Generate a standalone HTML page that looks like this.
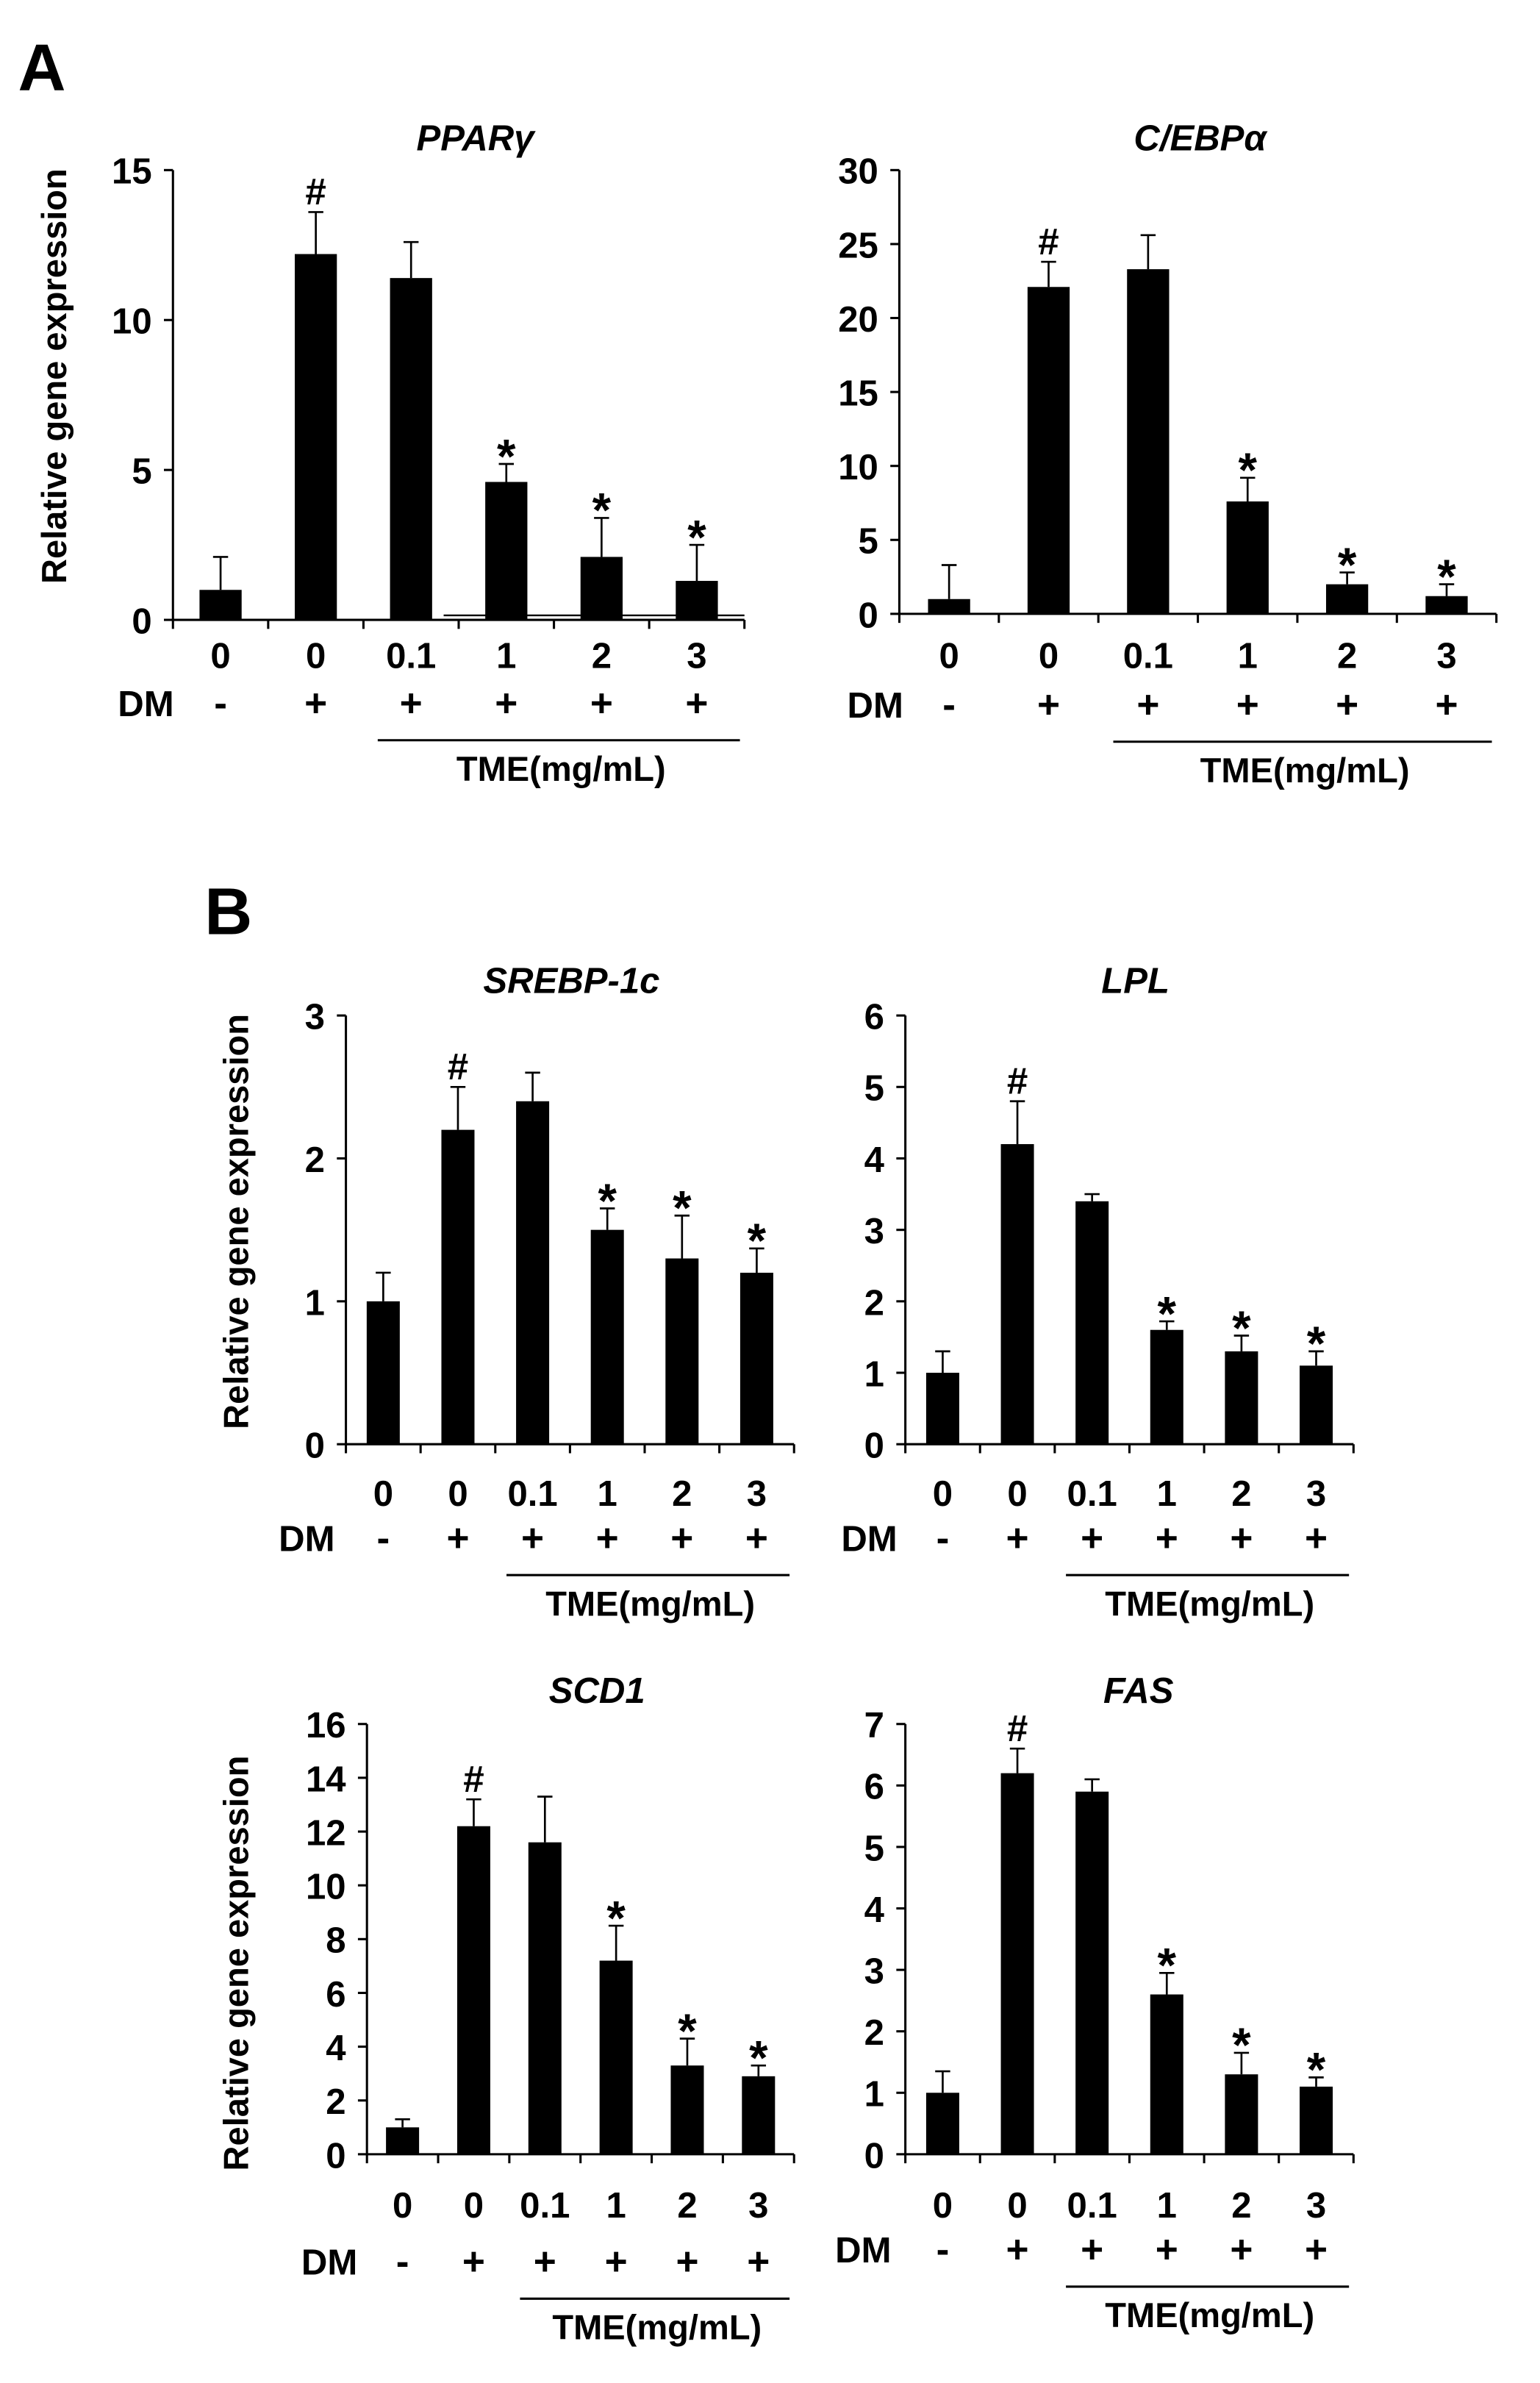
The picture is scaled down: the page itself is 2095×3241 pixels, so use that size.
<!DOCTYPE html>
<html><head><meta charset="utf-8"><style>
html,body{margin:0;padding:0;background:#fff}
svg{display:block}
text{font-family:"Liberation Sans",Arial,sans-serif;font-weight:bold;fill:#000}
</style></head><body>
<svg id="fig" width="2095" height="3241" viewBox="0 0 1024 1584" xmlns="http://www.w3.org/2000/svg">
<text x="12" y="60" font-size="44">A</text>
<text x="136" y="621" font-size="44">B</text>
<text transform="translate(44,250) rotate(-90)" font-size="23" text-anchor="middle">Relative gene expression</text>
<text transform="translate(165,812) rotate(-90)" font-size="23" text-anchor="middle">Relative gene expression</text>
<text transform="translate(165,1305) rotate(-90)" font-size="23" text-anchor="middle">Relative gene expression</text>
<line x1="295" y1="409" x2="495" y2="409" stroke="#000" stroke-width="1.2"/>
<g id="charts"></g>
</svg>
<script>
const categories = ["0","0","0.1","1","2","3"];
const dmSigns = ["-","+","+","+","+","+"];
const marks = ["","#","","*","*","*"];
const pparVals = [1,12.2,11.4,4.6,2.1,1.3];
const pparErr = [1.1,1.4,1.2,0.6,1.3,1.2];
const pparTicks = [0,5,10,15];
const cebpVals = [1,22.1,23.3,7.6,2,1.2];
const cebpErr = [2.3,1.7,2.3,1.6,0.8,0.8];
const cebpTicks = [0,5,10,15,20,25,30];
const srebpVals = [1,2.2,2.4,1.5,1.3,1.2];
const srebpErr = [0.2,0.3,0.2,0.15,0.3,0.17];
const srebpTicks = [0,1,2,3];
const lplVals = [1,4.2,3.4,1.6,1.3,1.1];
const lplErr = [0.3,0.6,0.1,0.12,0.22,0.2];
const lplTicks = [0,1,2,3,4,5,6];
const scdVals = [1,12.2,11.6,7.2,3.3,2.9];
const scdErr = [0.3,1.0,1.7,1.3,1.0,0.4];
const scdTicks = [0,2,4,6,8,10,12,14,16];
const fasVals = [1,6.2,5.9,2.6,1.3,1.1];
const fasErr = [0.35,0.4,0.2,0.35,0.35,0.15];
const fasTicks = [0,1,2,3,4,5,6,7];

const NS="http://www.w3.org/2000/svg";
const root=document.getElementById('charts');
function mk(tag,attrs,parent,txt){const e=document.createElementNS(NS,tag);for(const k in attrs)e.setAttribute(k,attrs[k]);if(txt!==undefined)e.textContent=txt;parent.appendChild(e);return e;}

function chart(cfg){
  const g=mk('g',{},root);
  
  
  const max=cfg.ticks[cfg.ticks.length-1];
  const yS=v=>cfg.y0-(v/max)*(cfg.y0-cfg.yTop);
  const step=(cfg.xEnd-cfg.ax)/6;
  const xS=i=>cfg.ax+step*(i+0.5);
  const bw=cfg.bw;
  const t=mk('text',{x:cfg.titleX,y:cfg.titleY,'font-size':24,'font-style':'italic','text-anchor':'middle'},g,cfg.title);
  
  
  const ya=mk('line',{x1:cfg.ax,y1:cfg.yTop,x2:cfg.ax,y2:cfg.y0,stroke:'#000','stroke-width':1.5},g);
  
  
  const xa=mk('line',{x1:cfg.ax,y1:cfg.y0,x2:cfg.xEnd,y2:cfg.y0,stroke:'#000','stroke-width':1.5},g);
  
  
  cfg.ticks.forEach(v=>{
    mk('line',{x1:cfg.ax-6,y1:yS(v),x2:cfg.ax,y2:yS(v),stroke:'#000','stroke-width':1.5},g);
    const tl=mk('text',{x:cfg.ax-14,y:yS(v)+9,'font-size':24,'text-anchor':'end'},g,String(v));
    
    
  });
  for(let i=0;i<=6;i++)mk('line',{x1:cfg.ax+step*i,y1:cfg.y0,x2:cfg.ax+step*i,y2:cfg.y0+6,stroke:'#000','stroke-width':1.5},g);
  cfg.vals.forEach((v,i)=>{
    const x=xS(i),top=yS(v),et=yS(v+cfg.err[i]);
    const b=mk('rect',{x:x-bw/2,y:top,width:bw,height:cfg.y0-top,fill:'#000'},g);
    
    
    mk('line',{x1:x,y1:top,x2:x,y2:et,stroke:'#000','stroke-width':1.3},g);
    mk('line',{x1:x-5,y1:et,x2:x+5,y2:et,stroke:'#000','stroke-width':1.3},g);
    if(marks[i]){
      const star=marks[i]==='*';
      const m=mk('text',{x:x,y:et-(star?-6:5),'font-size':star?32:25,'text-anchor':'middle'},g,marks[i]);
      
      
    }
    const cl=mk('text',{x:x,y:cfg.labY,'font-size':24,'text-anchor':'middle'},g,categories[i]);
    
    
    const dl=mk('text',{x:x,y:cfg.dmY,'font-size':26,'text-anchor':'middle'},g,dmSigns[i]);
    
    
  });
  const dm=mk('text',{x:cfg.dmX,y:cfg.dmY,'font-size':24,'text-anchor':'middle'},g,'DM');
  
  
  mk('line',{x1:xS(2)-step*0.35,y1:cfg.dmY+16,x2:cfg.xEnd-3,y2:cfg.dmY+16,stroke:'#000','stroke-width':1.5},g);
  const tme=mk('text',{x:(xS(2)-step*0.35+cfg.xEnd)/2,y:cfg.dmY+43,'font-size':23,'text-anchor':'middle'},g,'TME(mg/mL)');
  
  
}
chart({name:'ppar',title:'PPARγ',titleX:316,titleY:100,ax:115,xEnd:495,yTop:113,y0:412,ticks:pparTicks,vals:pparVals,err:pparErr,bw:28,labY:444,dmY:476,dmX:97});
chart({name:'cebp',title:'C/EBPα',titleX:798,titleY:100,ax:598,xEnd:995,yTop:113,y0:408,ticks:cebpTicks,vals:cebpVals,err:cebpErr,bw:28,labY:444,dmY:477,dmX:582});
chart({name:'srebp',title:'SREBP-1c',titleX:380,titleY:660,ax:230,xEnd:528,yTop:675,y0:960,ticks:srebpTicks,vals:srebpVals,err:srebpErr,bw:22,labY:1001,dmY:1031,dmX:204});
chart({name:'lpl',title:'LPL',titleX:755,titleY:660,ax:602,xEnd:900,yTop:675,y0:960,ticks:lplTicks,vals:lplVals,err:lplErr,bw:22,labY:1001,dmY:1031,dmX:578});
chart({name:'scd1',title:'SCD1',titleX:397,titleY:1132,ax:244,xEnd:528,yTop:1146,y0:1432,ticks:scdTicks,vals:scdVals,err:scdErr,bw:22,labY:1474,dmY:1512,dmX:219});
chart({name:'fas',title:'FAS',titleX:757,titleY:1132,ax:602,xEnd:900,yTop:1146,y0:1432,ticks:fasTicks,vals:fasVals,err:fasErr,bw:22,labY:1474,dmY:1504,dmX:574});
</script>
</body></html>
